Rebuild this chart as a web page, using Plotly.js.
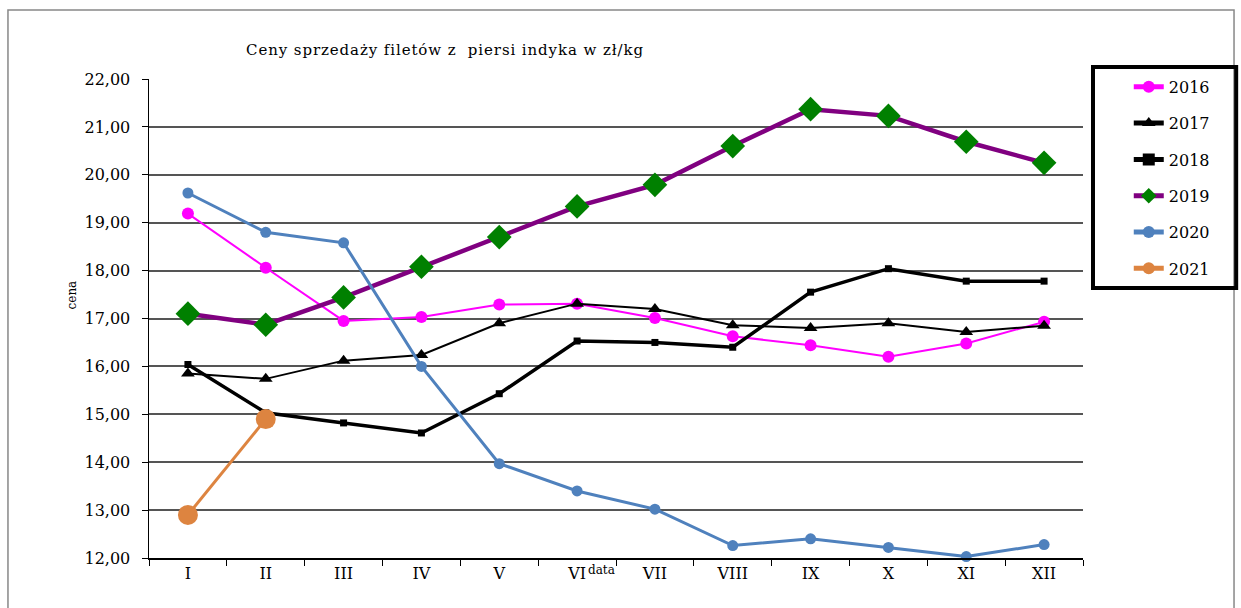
<!DOCTYPE html>
<html>
<head>
<meta charset="utf-8">
<script src="https://cdn.plot.ly/plotly-3.0.1.min.js"></script>
<style>
html,body{margin:0;padding:0;background:#fff;}
#chart{width:1241px;height:608px;}
#chart .gtitle{letter-spacing:0.9px;}
</style>
</head>
<body>
<div id="chart"></div>
<script>
const months = ['I','II','III','IV','V','VI','VII','VIII','IX','X','XI','XII'];
const y2016 = [19.19, 18.06, 16.95, 17.03, 17.29, 17.31, 17.01, 16.63, 16.44, 16.20, 16.48, 16.93];
const y2017 = [15.85, 15.74, 16.12, 16.24, 16.90, 17.31, 17.20, 16.86, 16.80, 16.90, 16.72, 16.85];
const y2018 = [16.04, 15.03, 14.82, 14.61, 15.43, 16.53, 16.50, 16.40, 17.55, 18.04, 17.78, 17.78];
const y2019 = [17.10, 16.87, 17.44, 18.08, 18.70, 19.34, 19.79, 20.60, 21.37, 21.23, 20.69, 20.25];
const y2020 = [19.62, 18.80, 18.58, 16.00, 13.97, 13.40, 13.02, 12.26, 12.40, 12.22, 12.03, 12.28];
const y2021 = [12.90, 14.90];
const seriesNames = ['2016','2017','2018','2019','2020','2021'];

const serif = 'DejaVu Serif';

function tr(name, y, lineColor, lw, sym, msize, mcolor, grp) {
  return {
    type: 'scatter', mode: 'lines+markers', name: name,
    x: months.slice(0, y.length), y: y,
    line: {color: lineColor, width: lw},
    marker: {symbol: sym, size: msize, color: mcolor},
    legendgroup: grp, cliponaxis: false
  };
}

const data = [
  tr(seriesNames[0], y2016, '#FF00FF', 2, 'circle', 12, '#FF00FF', 'g1'),
  tr(seriesNames[1], y2017, '#000000', 2, 'triangle-up', 12, '#000000', 'g2'),
  tr(seriesNames[2], y2018, '#000000', 3.5, 'square', 7, '#000000', 'g3'),
  tr(seriesNames[3], y2019, '#800080', 4.5, 'diamond', 19, '#008000', 'g4'),
  tr(seriesNames[4], y2020, '#4F81BD', 3, 'circle', 11, '#4F81BD', 'g5'),
  tr(seriesNames[5], y2021, '#DD8440', 3, 'circle', 20, '#DD8440', 'g6')
];

const layout = {
  width: 1241, height: 608,
  margin: {l: 149, r: 158, t: 79, b: 50},
  paper_bgcolor: '#ffffff', plot_bgcolor: '#ffffff',
  separators: ', ',
  font: {family: serif, color: '#000', size: 16},
  showlegend: true,
  title: {
    text: 'Ceny sprzedaży filetów z  piersi indyka w zł/kg',
    x: 0.3586, xanchor: 'center', xref: 'container',
    y: 0.918, yanchor: 'middle', yref: 'container',
    font: {family: serif, size: 15, color: '#000'}
  },
  xaxis: {
    type: 'category', categoryorder: 'array', categoryarray: months,
    range: [-0.5, 11.5],
    showline: true, linecolor: '#000', linewidth: 1.5,
    ticks: 'outside', tickson: 'boundaries', ticklen: 6, tickcolor: '#000', tickwidth: 1,
    showgrid: false, zeroline: false,
    tickfont: {family: serif, size: 16, color: '#000'},
    fixedrange: true
  },
  yaxis: {
    range: [12, 22], dtick: 1, tick0: 12, tickformat: '.2f',
    showline: true, linecolor: '#000', linewidth: 1.5,
    ticks: 'outside', ticklen: 6, tickcolor: '#000', tickwidth: 1,
    ticklabelstandoff: 8,
    showgrid: true, gridcolor: '#555', gridwidth: 2,
    zeroline: false,
    tickfont: {family: serif, size: 16, color: '#000'},
    fixedrange: true
  },
  legend: {
    x: 1.049, xanchor: 'left', y: 1.019, yanchor: 'top',
    bgcolor: 'rgba(0,0,0,0)', borderwidth: 0,
    tracegroupgap: 12.5, itemsizing: 'constant',
    font: {family: serif, size: 16, color: '#000'}
  },
  shapes: [
    {type: 'rect', xref: 'paper', yref: 'paper',
     x0: -0.151, x1: 1.1617, y0: -0.12, y1: 1.144,
     line: {color: '#888', width: 1.5}, fillcolor: 'rgba(0,0,0,0)', layer: 'below'},
    {type: 'rect', xref: 'paper', yref: 'paper',
     x0: 1.0107, x1: 1.164, y0: 0.5637, y1: 1.025,
     line: {color: '#000', width: 4}, fillcolor: 'rgba(0,0,0,0)'}
  ],
  annotations: [
    {text: 'data', xref: 'paper', yref: 'paper', x: 0.485, y: -0.025,
     xanchor: 'center', yanchor: 'middle', showarrow: false,
     font: {family: serif, size: 12, color: '#000'}},
    {text: 'cena', xref: 'paper', yref: 'paper', x: -0.082, y: 0.549,
     xanchor: 'center', yanchor: 'middle', showarrow: false, textangle: -90,
     font: {family: serif, size: 12, color: '#000'}}
  ]
};

Plotly.newPlot('chart', data, layout, {displayModeBar: false, staticPlot: true});
</script>
</body>
</html>
